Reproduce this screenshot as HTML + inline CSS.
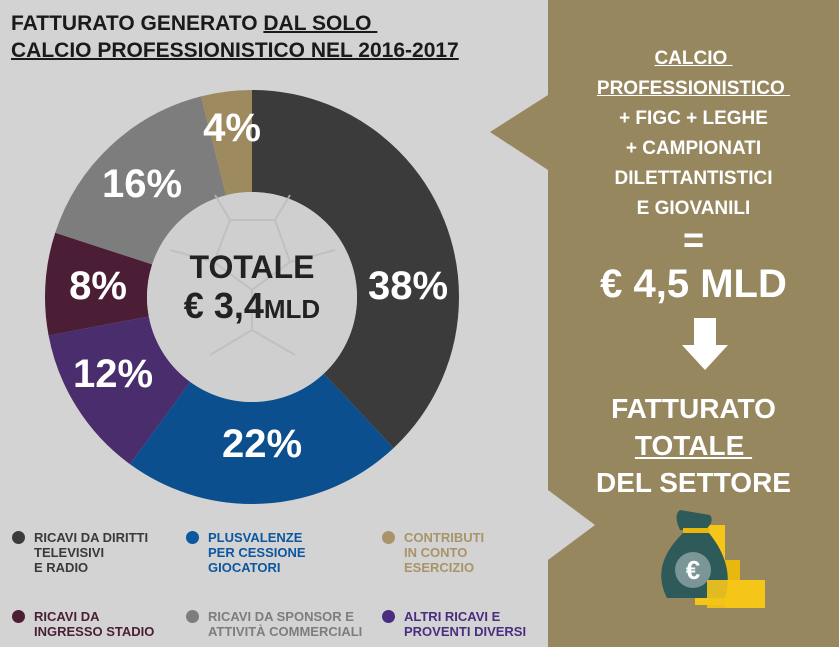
<!DOCTYPE html>
<html><head><meta charset="utf-8"><style>
body{margin:0;width:839px;height:647px;overflow:hidden;background:#d3d3d3;font-family:"Liberation Sans",sans-serif;position:relative}
.t{position:absolute;white-space:nowrap}
h1{position:absolute;left:11px;top:10px;margin:0;font-size:21px;line-height:27px;font-weight:bold;color:#1a1a1a}
h1 u{text-decoration-thickness:2px}
.rp{position:absolute;left:548px;top:0;width:291px;height:647px;background:#97875f}
.r{position:absolute;left:548px;width:291px;text-align:center;color:#fff;font-weight:bold;white-space:nowrap}
.lg{position:absolute;font-size:13px;line-height:15px;font-weight:bold}
.lg i{position:absolute;left:-22px;top:1px;width:13px;height:13px;border-radius:50%}
</style></head><body>
<div class="rp"></div>
<svg width="839" height="647" style="position:absolute;left:0;top:0">
<polygon points="490,132 548,95 548,170" fill="#97875f"/>
<polygon points="548,490 595,525 548,560" fill="#d3d3d3"/>
<g transform="rotate(-90 252 297)" fill="none" stroke-width="102">
<circle cx="252" cy="297" r="156" stroke="#3b3b3b" stroke-dasharray="372.5 2000"/>
<circle cx="252" cy="297" r="156" stroke="#0b4f8e" stroke-dasharray="0 372.5 215.6 2000"/>
<circle cx="252" cy="297" r="156" stroke="#4a2d6c" stroke-dasharray="0 588.1 117.6 2000"/>
<circle cx="252" cy="297" r="156" stroke="#4b1e35" stroke-dasharray="0 705.7 78.4 2000"/>
<circle cx="252" cy="297" r="156" stroke="#7d7d7d" stroke-dasharray="0 784.1 156.8 2000"/>
<circle cx="252" cy="297" r="156" stroke="#9d8a5e" stroke-dasharray="0 940.9 40 2000"/>
</g>
<circle cx="252" cy="297" r="105" fill="#cfcfcf"/>
<g stroke="#bdbdbd" stroke-width="2" fill="none" opacity=".8">
<polygon points="230,220 275,220 290,262 252,290 214,262"/>
<path d="M214,262 L170,250 M290,262 L335,250 M252,290 L252,330 M230,220 L215,195 M275,220 L290,195 M252,330 L210,355 M252,330 L295,355"/>
</g>
<g fill="#fff" font-weight="bold" font-size="40" font-family="Liberation Sans,sans-serif" text-anchor="middle">
<text x="232" y="141">4%</text>
<text x="142" y="197">16%</text>
<text x="98" y="299">8%</text>
<text x="113" y="387">12%</text>
<text x="262" y="457">22%</text>
<text x="408" y="299">38%</text>
</g>
<text x="252" y="278" font-size="32" font-weight="bold" fill="#222" text-anchor="middle" font-family="Liberation Sans,sans-serif">TOTALE</text>
<text x="252" y="318" font-size="36" font-weight="bold" fill="#222" text-anchor="middle" font-family="Liberation Sans,sans-serif">€ 3,4<tspan font-size="26">MLD</tspan></text>
<polygon points="694,318 716,318 716,345 728,345 705,370 682,345 694,345" fill="#fff"/>
<g transform="translate(655,510)">
<rect x="40" y="15" width="30" height="80" fill="#f5c518"/>
<rect x="55" y="50" width="30" height="45" fill="#e8b80e"/>
<rect x="70" y="70" width="40" height="28" fill="#f5c518"/>
<path d="M25,20 Q18,5 25,0 L55,5 Q60,12 50,20 Z" fill="#2f5a5a"/>
<rect x="28" y="18" width="26" height="5" fill="#e8b80e"/>
<path d="M28,23 L54,23 Q80,55 70,88 L12,88 Q-5,55 28,23Z" fill="#2f5a5a"/>
<circle cx="38" cy="60" r="18" fill="#7a9696"/>
<text x="38" y="69" font-size="26" font-weight="bold" fill="#fff" text-anchor="middle" font-family="Liberation Sans,sans-serif">€</text>
<rect x="52" y="70" width="58" height="28" fill="#f5c518" opacity=".9"/>
</g>
</svg>
<h1>FATTURATO GENERATO <u>DAL SOLO&nbsp;</u><br><u>CALCIO PROFESSIONISTICO NEL 2016-2017</u></h1>
<div class="r" style="top:44px;font-size:19px;line-height:30px"><u>CALCIO&nbsp;</u><br><u>PROFESSIONISTICO&nbsp;</u><br>+ FIGC + LEGHE<br>+ CAMPIONATI<br>DILETTANTISTICI<br>E GIOVANILI</div>
<div class="r" style="top:222px;font-size:36px;line-height:36px">=</div>
<div class="r" style="top:262px;font-size:40px;line-height:44px">€ 4,5 MLD</div>
<div class="r" style="top:390px;font-size:28px;line-height:37px">FATTURATO<br><u>TOTALE&nbsp;</u><br>DEL SETTORE</div>
<div class="lg" style="left:34px;top:530px;color:#3a3a3a"><i style="background:#3b3b3b"></i>RICAVI DA DIRITTI<br>TELEVISIVI<br>E RADIO</div>
<div class="lg" style="left:208px;top:530px;color:#0b57a0"><i style="background:#0b57a0"></i>PLUSVALENZE<br>PER CESSIONE<br>GIOCATORI</div>
<div class="lg" style="left:404px;top:530px;color:#a89468"><i style="background:#a89468"></i>CONTRIBUTI<br>IN CONTO<br>ESERCIZIO</div>
<div class="lg" style="left:34px;top:609px;color:#4b1e35"><i style="background:#4b1e35"></i>RICAVI DA<br>INGRESSO STADIO</div>
<div class="lg" style="left:208px;top:609px;color:#7d7d7d"><i style="background:#7d7d7d"></i>RICAVI DA SPONSOR E<br>ATTIVITÀ COMMERCIALI</div>
<div class="lg" style="left:404px;top:609px;color:#4a2d80"><i style="background:#4a2d80"></i>ALTRI RICAVI E<br>PROVENTI DIVERSI</div>
</body></html>
